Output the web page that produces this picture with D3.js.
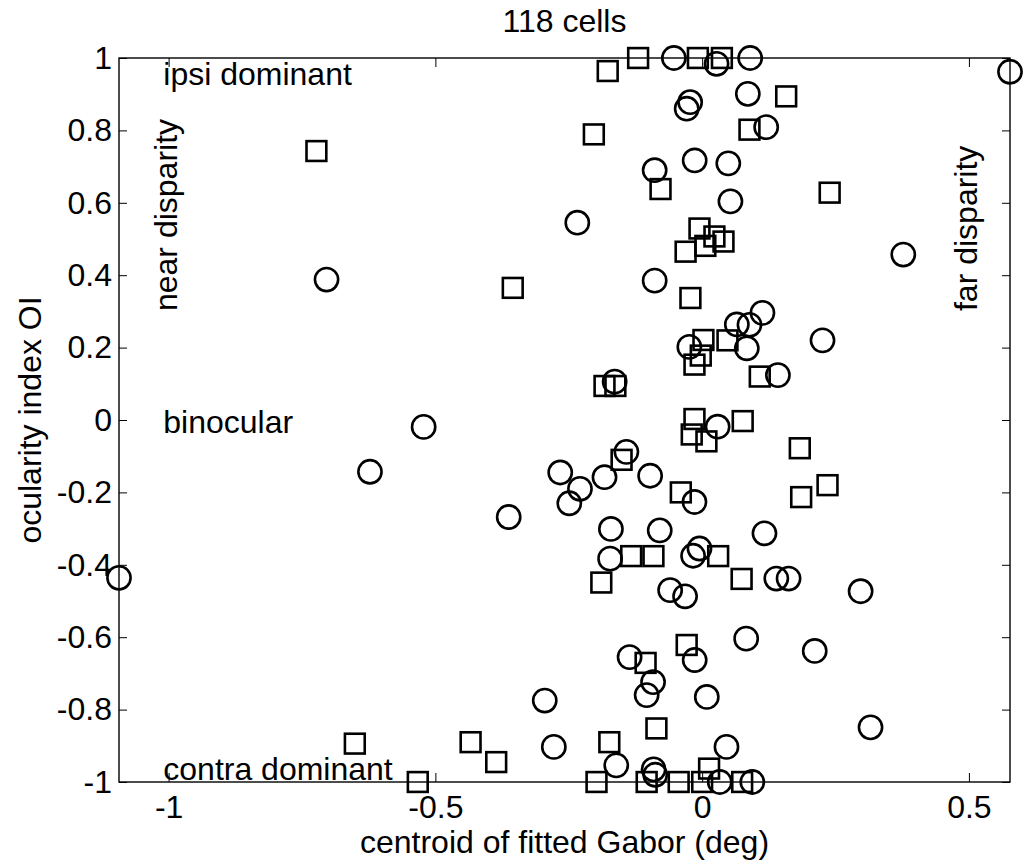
<!DOCTYPE html>
<html>
<head>
<meta charset="utf-8">
<script src="https://cdn.jsdelivr.net/npm/d3@7"></script>
<style>
  body { margin: 0; background: #fff; }
  svg text { font-family: "Liberation Sans", Arial, sans-serif; fill: #000; }
</style>
</head>
<body>
<div id="chart"></div>
<script>
// circle cells (centroid in deg, ocularity index)
const circleX = [-0.053, 0.027, 0.09, -0.0225, -0.029, 0.0856, 0.12, -0.014, 0.049, -0.089,
  0.053, -0.234, 0.377, -0.704, -0.089, 0.113, 0.0887, 0.065, 0.0837, -0.024,
  0.2256, 0.142, -0.164, 0.029, -0.522, -0.6226, -0.142, -0.266, -0.229, -0.249,
  -0.183, -0.0975, -0.0144, -0.3626, -0.171, -0.0795, 0.1168, -0.1725, -0.017, -0.005,
  0.139, 0.162, 0.297, -0.06, -0.032, 0.0825, 0.211, -0.014, -0.136, -0.092,
  -0.104, 0.0087, -0.295, 0.3156, 0.0456, -0.278, -0.161, -0.091, 0.033, 0.094,
  -1.093, 0.577, -0.088];
const circleY = [1, 0.984, 1, 0.878, 0.86, 0.901, 0.809, 0.717, 0.709, 0.69,
  0.604, 0.545, 0.457, 0.388, 0.385, 0.296, 0.263, 0.264, 0.198, 0.202,
  0.22, 0.124, 0.106, -0.0185, -0.019, -0.143, -0.088, -0.145, -0.19, -0.23,
  -0.158, -0.154, -0.2265, -0.268, -0.301, -0.305, -0.313, -0.383, -0.375, -0.355,
  -0.438, -0.438, -0.473, -0.47, -0.487, -0.604, -0.638, -0.663, -0.655, -0.724,
  -0.76, -0.765, -0.775, -0.849, -0.903, -0.903, -0.954, -0.965, -1, -1,
  -0.436, 0.962, -0.98];

// square cells
const squareX = [-0.177, -0.12, -0.008, 0.037, 0.1575, 0.0887, -0.203, -0.723, -0.078, 0.239,
  -0.005, 0.023, 0.04, 0.006, -0.031, -0.355, -0.022, 0.0475, 0.0024, -0.0026,
  -0.0144, 0.108, -0.183, -0.1626, -0.0144, -0.0195, 0.008, 0.076, 0.183, 0.235,
  0.1856, -0.151, -0.04, -0.133, -0.0913, 0.03, 0.074, -0.189, -0.029, -0.106,
  -0.0857, -0.174, -0.434, -0.386, -0.651, -0.533, -0.198, -0.104, -0.044, 0.0,
  0.013, 0.075];
const squareY = [0.964, 1, 1, 1, 0.894, 0.802, 0.789, 0.743, 0.638, 0.628,
  0.529, 0.507, 0.493, 0.481, 0.465, 0.365, 0.337, 0.22, 0.221, 0.178,
  0.153, 0.12, 0.094, 0.094, 0.0027, -0.04, -0.059, -0.003, -0.078, -0.18,
  -0.213, -0.11, -0.2, -0.376, -0.376, -0.376, -0.439, -0.449, -0.6215, -0.671,
  -0.852, -0.89, -0.89, -0.945, -0.894, -1, -1, -1, -1, -1,
  -0.963, -1];

const xTicks = [-1, -0.5, 0, 0.5];
const yTicks = [-1, -0.8, -0.6, -0.4, -0.2, 0, 0.2, 0.4, 0.6, 0.8, 1];

const titleText = "118 cells";
const xLabel = "centroid of fitted Gabor (deg)";
const yLabel = "ocularity index OI";

const notes = [
  { text: "ipsi dominant", x: -1.01, y: 0.926, rot: false },
  { text: "binocular", x: -1.01, y: -0.035, rot: false },
  { text: "contra dominant", x: -1.01, y: -0.994, rot: false },
  { text: "near disparity", x: -0.984, y: 0.301, rot: true },
  { text: "far disparity", x: 0.516, y: 0.301, rot: true }
];

const W = 1028, H = 867;
const margin = { top: 58, right: 18, bottom: 85, left: 119 };
const width = W - margin.left - margin.right;
const height = H - margin.top - margin.bottom;
const fontSize = 32;

const svg = d3.select("#chart").append("svg")
  .attr("width", W)
  .attr("height", H);

const g = svg.append("g")
  .attr("transform", `translate(${margin.left},${margin.top})`);

const allX = circleX.concat(squareX);
const x = d3.scaleLinear().domain(d3.extent(allX)).range([0, width]);
const y = d3.scaleLinear().domain([-1, 1]).range([height, 0]);

const fmt = d => String(d);

function styleAxis(sel) {
  sel.select(".domain").remove();
  sel.selectAll(".tick line").attr("stroke", "#000").attr("stroke-width", 1);
  sel.selectAll(".tick text").style("font-size", fontSize + "px").attr("fill", "#000");
}

g.append("g")
  .attr("transform", `translate(0,${height})`)
  .call(d3.axisBottom(x).tickValues(xTicks).tickFormat(fmt).tickSize(-9).tickPadding(13))
  .call(styleAxis);

g.append("g")
  .call(d3.axisTop(x).tickValues(xTicks).tickFormat("").tickSize(-9))
  .call(styleAxis);

g.append("g")
  .call(d3.axisLeft(y).tickValues(yTicks).tickFormat(fmt).tickSize(-8).tickPadding(7))
  .call(styleAxis);

g.append("g")
  .attr("transform", `translate(${width},0)`)
  .call(d3.axisRight(y).tickValues(yTicks).tickFormat("").tickSize(-8))
  .call(styleAxis);

g.append("rect")
  .attr("width", width)
  .attr("height", height)
  .attr("fill", "none")
  .attr("stroke", "#000")
  .attr("stroke-width", 1.4);

// markers
const circles = circleX.map((d, i) => ({ x: d, y: circleY[i] }));
const squares = squareX.map((d, i) => ({ x: d, y: squareY[i] }));

g.selectAll("circle.cell")
  .data(circles)
  .join("circle")
  .attr("class", "cell")
  .attr("cx", d => x(d.x))
  .attr("cy", d => y(d.y))
  .attr("r", 11.6)
  .attr("fill", "none")
  .attr("stroke", "#000")
  .attr("stroke-width", 2.6);

const half = 9.9;
g.selectAll("rect.cell")
  .data(squares)
  .join("rect")
  .attr("class", "cell")
  .attr("x", d => x(d.x) - half)
  .attr("y", d => y(d.y) - half)
  .attr("width", half * 2)
  .attr("height", half * 2)
  .attr("fill", "none")
  .attr("stroke", "#000")
  .attr("stroke-width", 2.6);

// annotations
notes.forEach(n => {
  const t = g.append("text")
    .style("font-size", fontSize + "px")
    .text(n.text);
  if (n.rot) {
    t.attr("transform", `translate(${x(n.x)},${y(n.y)}) rotate(-90)`);
  } else {
    t.attr("x", x(n.x)).attr("y", y(n.y));
  }
});

// title and labels
svg.append("text")
  .attr("x", margin.left + width / 2)
  .attr("y", 32)
  .attr("text-anchor", "middle")
  .style("font-size", fontSize + "px")
  .text(titleText);

svg.append("text")
  .attr("x", margin.left + width / 2)
  .attr("y", 853)
  .attr("text-anchor", "middle")
  .style("font-size", fontSize + "px")
  .text(xLabel);

svg.append("text")
  .attr("transform", `translate(41,${margin.top + height / 2}) rotate(-90)`)
  .attr("text-anchor", "middle")
  .style("font-size", fontSize + "px")
  .text(yLabel);
</script>
</body>
</html>
